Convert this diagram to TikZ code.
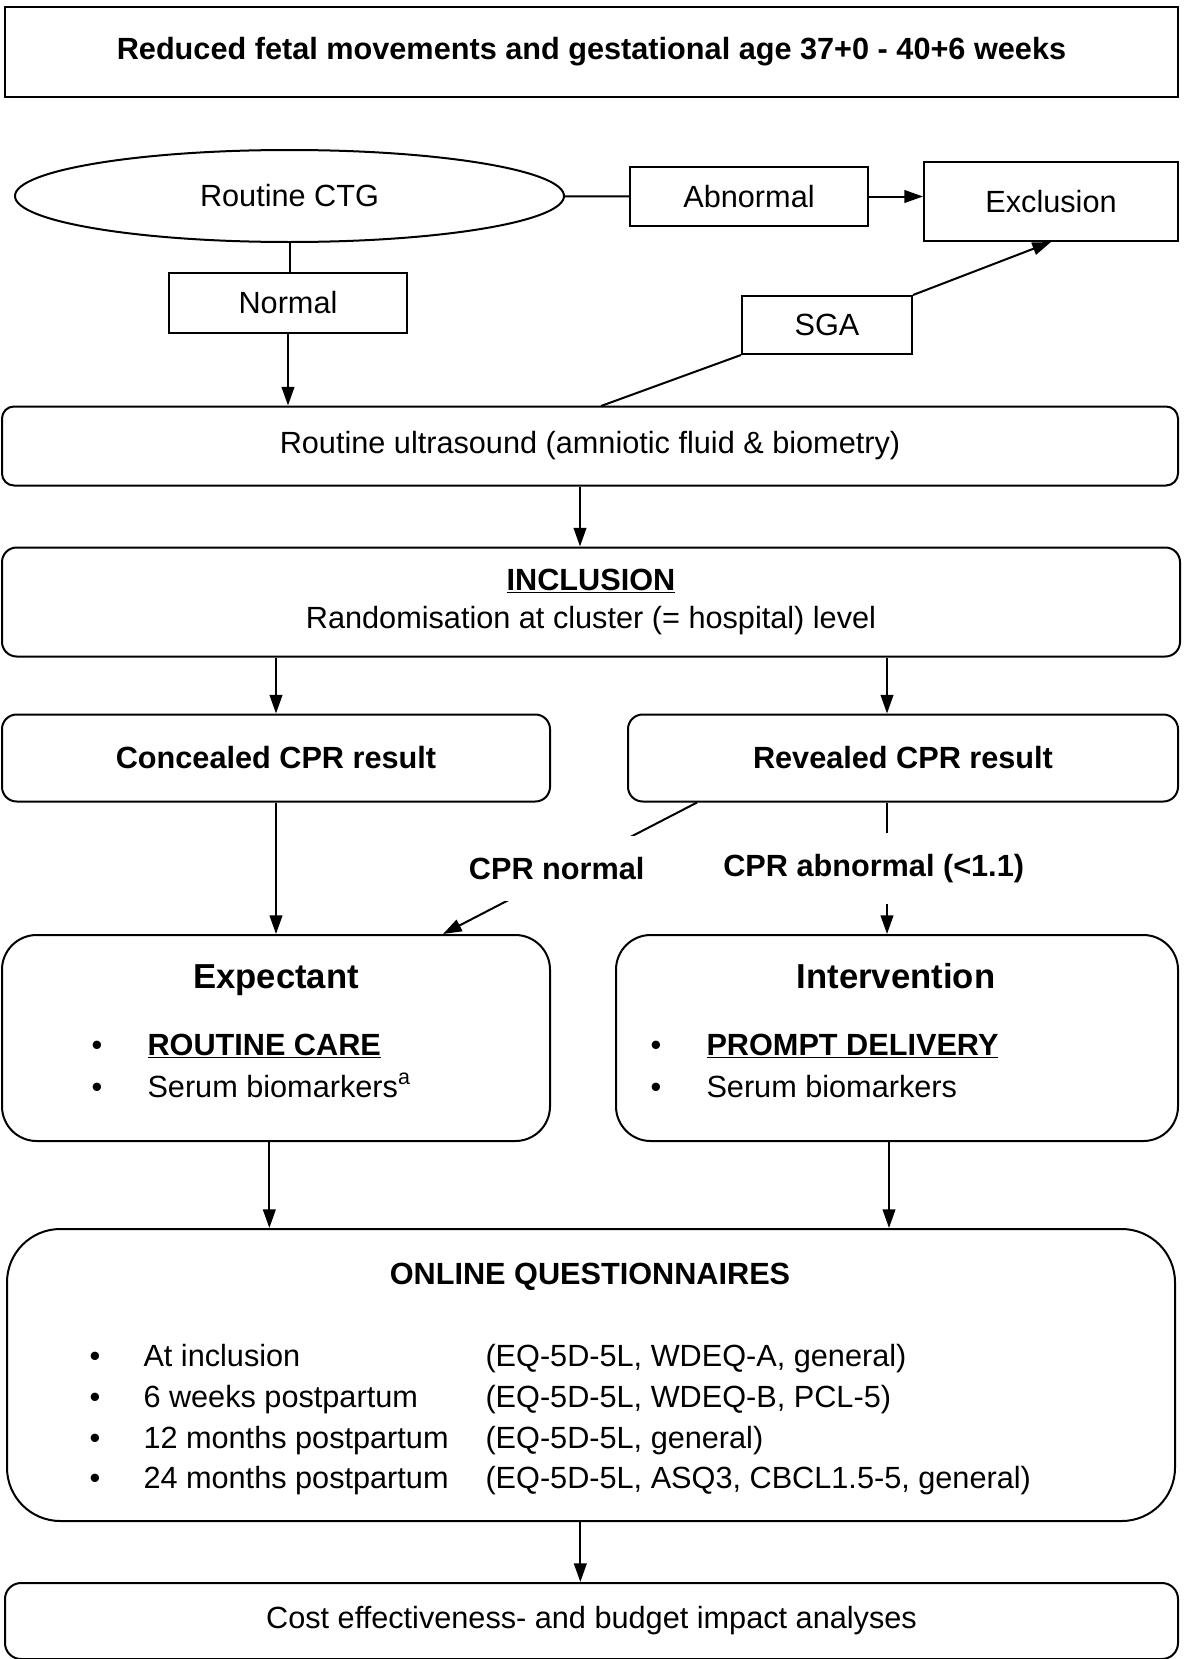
\documentclass[tikz,border=0pt]{standalone}
\usepackage{fontspec}
\setmainfont{Liberation Sans}
\usetikzlibrary{shapes.geometric,arrows.meta}

\tikzset{every picture/.style={line width=0.75pt}}
\tikzset{
  plainbox/.style={draw, line width=1.5pt, inner sep=0pt, font=\fontsize{23}{28}\selectfont},
  softbox/.style={plainbox, rounded corners=9pt},
  flow/.style={line width=1.5pt, -{Triangle[length=14pt,width=9.5pt]}},
  link/.style={line width=1.5pt},
  cprlabel/.style={fill=white, inner sep=16pt, font=\fontsize{23}{28}\selectfont\bfseries},
  bodytext/.style={inner sep=0pt, font=\fontsize{23}{28}\selectfont},
  headtext/.style={inner sep=0pt, font=\fontsize{26}{31}\selectfont\bfseries}
}

\begin{document}
\begin{tikzpicture}[x=0.75pt,y=0.75pt,yscale=-1,xscale=1]
        \useasboundingbox (0,0) rectangle (1184,1659);

        %Shape: Rectangle [id:title]
        \node (title) [plainbox, line width=2.2pt, minimum width=879.75pt, minimum height=67.5pt, font=\fontsize{23}{28}\selectfont\bfseries] at (591.5,52) {Reduced fetal movements and gestational age 37+0 - 40+6 weeks};

        %Shape: Ellipse [id:ctg]
        \node (ctg) [draw, ellipse, line width=1.5pt, inner sep=0pt, minimum width=411.75pt, minimum height=69pt, font=\fontsize{23}{28}\selectfont] at (289.5,196) {Routine CTG};
        \node (abnormal) [plainbox, minimum width=178.5pt, minimum height=44.25pt] at (749,196.5) {Abnormal};
        \node (exclusion) [plainbox, minimum width=190.5pt, minimum height=59.25pt] at (1051,201.5) {Exclusion};
        \node (normal) [plainbox, minimum width=178.5pt, minimum height=45pt] at (288,303) {Normal};
        \node (sga) [plainbox, minimum width=127.5pt, minimum height=43.5pt] at (827,325) {SGA};

        %Rounded Rect [id:ultrasound]
        \node (ultrasound) [softbox, minimum width=882pt, minimum height=59.25pt] at (590,446) {Routine ultrasound (amniotic fluid \& biometry)};
        \node (inclusion) [softbox, rounded corners=11pt, minimum width=883.5pt, minimum height=81.75pt, align=center] at (591,602) {\underline{\textbf{INCLUSION}}\\[1pt]Randomisation at cluster (= hospital) level};
        \node (concealed) [softbox, rounded corners=11pt, minimum width=411pt, minimum height=65.25pt, font=\fontsize{23}{28}\selectfont\bfseries] at (276,758) {Concealed CPR result};
        \node (revealed) [softbox, rounded corners=11pt, minimum width=412.5pt, minimum height=65.25pt, font=\fontsize{23}{28}\selectfont\bfseries] at (903,758) {Revealed CPR result};

        %Rounded Rect [id:expectant]
        \node (expectant) [softbox, rounded corners=26pt, minimum width=411pt, minimum height=154.5pt] at (276,1038) {};
        % Text Node
        \node (expectanthead) [headtext] at (276,980) {Expectant};
        \node (ebullet1) [bodytext, anchor=base] at (97,1055) {\textbullet};
        \node (routinecare) [bodytext, anchor=base west] at (147,1055) {\underline{\textbf{ROUTINE CARE}}};
        \node (ebullet2) [bodytext, anchor=base] at (97,1097) {\textbullet};
        \node (eserum) [bodytext, anchor=base west] at (147,1097) {Serum biomarkers\textsuperscript{a}};

        %Rounded Rect [id:intervention]
        \node (intervention) [softbox, rounded corners=26pt, minimum width=421.5pt, minimum height=154.5pt] at (897,1038) {};
        % Text Node
        \node (interventionhead) [headtext] at (896,976) {Intervention};
        \node (ibullet1) [bodytext, anchor=base] at (656,1055) {\textbullet};
        \node (promptdelivery) [bodytext, anchor=base west] at (706,1055) {\underline{\textbf{PROMPT DELIVERY}}};
        \node (ibullet2) [bodytext, anchor=base] at (656,1097) {\textbullet};
        \node (iserum) [bodytext, anchor=base west] at (706,1097) {Serum biomarkers};

        %Rounded Rect [id:quest]
        \node (quest) [softbox, rounded corners=40pt, minimum width=876pt, minimum height=219pt] at (591,1375) {};
        % Text Node
        \node (questhead) [bodytext, font=\fontsize{23}{28}\selectfont\bfseries] at (590,1277) {ONLINE QUESTIONNAIRES};
        \node (qbullet1) [bodytext, anchor=base] at (95,1366) {\textbullet};
        \node (qtime1) [bodytext, anchor=base west] at (143,1366) {At inclusion};
        \node (qlist1) [bodytext, anchor=base west] at (485,1366) {(EQ-5D-5L, WDEQ-A, general)};
        \node (qbullet2) [bodytext, anchor=base] at (95,1407) {\textbullet};
        \node (qtime2) [bodytext, anchor=base west] at (143,1407) {6 weeks postpartum};
        \node (qlist2) [bodytext, anchor=base west] at (485,1407) {(EQ-5D-5L, WDEQ-B, PCL-5)};
        \node (qbullet3) [bodytext, anchor=base] at (95,1448) {\textbullet};
        \node (qtime3) [bodytext, anchor=base west] at (143,1448) {12 months postpartum};
        \node (qlist3) [bodytext, anchor=base west] at (485,1448) {(EQ-5D-5L, general)};
        \node (qbullet4) [bodytext, anchor=base] at (95,1488) {\textbullet};
        \node (qtime4) [bodytext, anchor=base west] at (143,1488) {24 months postpartum};
        \node (qlist4) [bodytext, anchor=base west] at (485,1488) {(EQ-5D-5L, ASQ3, CBCL1.5-5, general)};

        %Rounded Rect [id:cost]
        \node (cost) [softbox, rounded corners=12pt, minimum width=879.75pt, minimum height=57pt] at (591.5,1621) {Cost effectiveness- and budget impact analyses};

        %Straight Lines
        \draw [link] (ctg) -- (abnormal);
        \draw [flow] (abnormal.east) -- (abnormal.east -| exclusion.west);
        \draw [link] (ctg.south) -- (ctg.south |- normal.north);
        \draw [flow] (normal.south) -- (normal.south |- ultrasound.north);
        \coordinate (sgafoot) at (601,406);
        \draw [link] (sgafoot) -- (sga.south west);
        \draw [flow] (sga.north east) -- (exclusion.south);
        \draw [flow] ([xshift=-7.5pt]ultrasound.south) -- ([xshift=-7.5pt]ultrasound.south |- inclusion.north);
        \draw [flow] (inclusion.south -| concealed.north) -- (concealed.north);
        \draw [flow] ([xshift=-12pt]inclusion.south -| revealed.north) -- ([xshift=-12pt]revealed.north);
        \draw [flow] (concealed.south) -- (expectant.north);
        \draw [flow] ([xshift=52.5pt]revealed.south west) -- node [cprlabel, xshift=-10pt] {CPR normal} ([xshift=-81pt]expectant.north east);
        \draw [flow] ([xshift=-12pt]revealed.south) -- node [cprlabel, xshift=-10pt] {CPR abnormal (<1.1)} ([xshift=-12pt]revealed.south |- intervention.north);
        \draw [flow] ([xshift=-5pt]expectant.south) -- ([xshift=-5pt]expectant.south |- quest.north);
        \draw [flow] ([xshift=-6pt]intervention.south) -- ([xshift=-6pt]intervention.south |- quest.north);
        \draw [flow] ([xshift=-8pt]quest.south) -- ([xshift=-8pt]quest.south |- cost.north);
\end{tikzpicture}
\end{document}
